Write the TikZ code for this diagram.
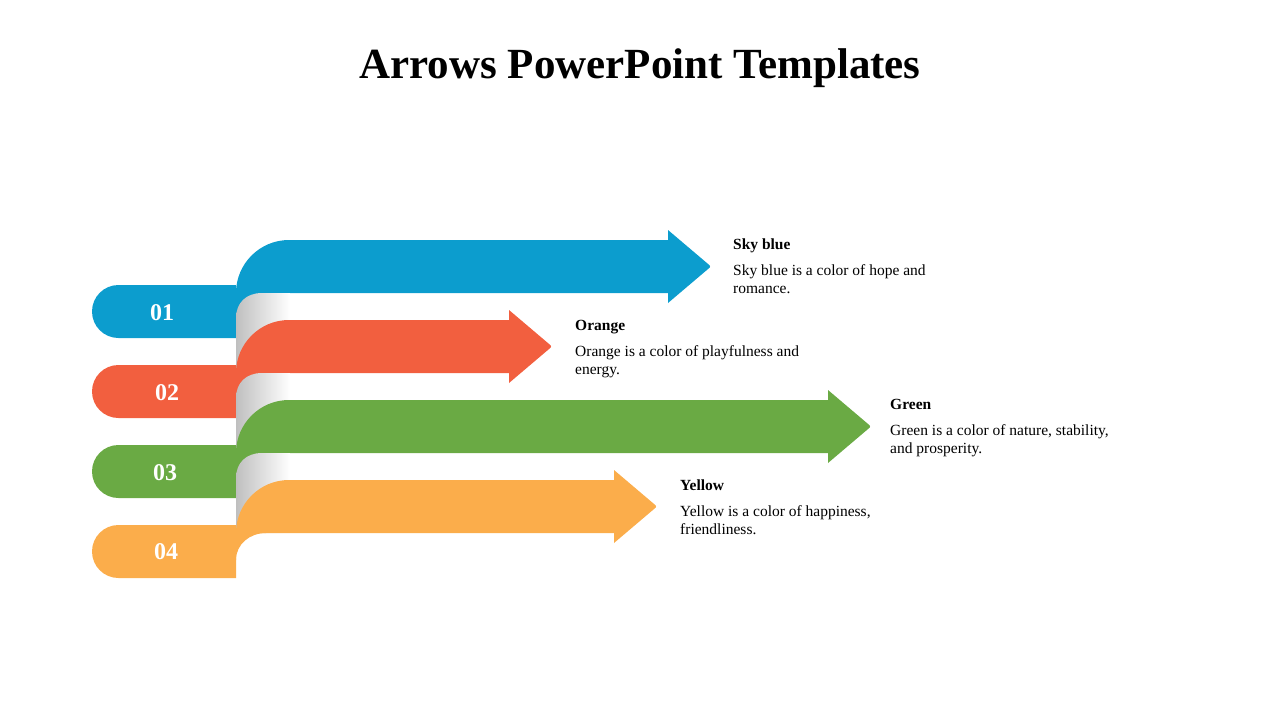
\documentclass[tikz,border=0pt]{standalone}
\usepackage{fontspec}
\setmainfont{Liberation Serif}
\definecolor{cblue}{HTML}{0C9DCE}
\definecolor{corange}{HTML}{F25F3F}
\definecolor{cgreen}{HTML}{6AAA44}
\definecolor{cyellow}{HTML}{FBAD4B}
\tikzset{
  num/.style={text=white,font=\fontsize{24}{28}\selectfont\bfseries,anchor=center},
  head/.style={font=\fontsize{15.5}{18}\selectfont\bfseries,anchor=base west,inner sep=0},
  desc/.style={font=\fontsize{15.5}{18}\selectfont,anchor=base west,inner sep=0},
}
\newcommand{\band}[4]{% #1 top y, #2 color, #3 head x, #4 gray?
  \fill[#2,rounded corners=26.5] (236,#1+45) -- (92,#1+45) -- (92,#1+98) -- (236,#1+98);
  \fill[#2] (236,#1+53) -- (266,#1+53) .. controls (250,#1+53) and (236,#1+64) .. (236,#1+80) -- cycle;
  \fill[#2] (236,#1+53) [rounded corners=53] -- (236,#1) [sharp corners] -- (#3,#1) -- (#3,#1-10) [rounded corners=2] -- (#3+43,#1+26.5) [sharp corners] -- (#3,#1+63) -- (#3,#1+53) -- cycle;
}
\newcommand{\fold}[1]{%
  \shade[left color=black!25,right color=white] (236,#1+133) -- (236,#1+78) .. controls (236,#1+63) and (246,#1+53) .. (262,#1+53) -- (290,#1+53) -- (290,#1+133) -- cycle;
}
\begin{document}
\begin{tikzpicture}[x=1pt,y=-1pt]
\useasboundingbox (0,0) rectangle (1280,720);
\node[font=\fontsize{43}{50}\selectfont\bfseries] (title) at (640,68) {Arrows PowerPoint Templates};
\band{240}{cblue}{668}{}
\fold{240}
\band{320}{corange}{509}{}
\fold{320}
\band{400}{cgreen}{828}{}
\fold{400}
\band{480}{cyellow}{614}{}
\node[num] (n1) at (162,313) {01};
\node[num] (n2) at (167,393) {02};
\node[num] (n3) at (165,473) {03};
\node[num] (n4) at (166,552) {04};
\node[head] (h1) at (733,249) {Sky blue};
\node[desc] (d1a) at (733,275) {Sky blue is a color of hope and};
\node[desc] (d1b) at (733,293) {romance.};
\node[head] (h2) at (575,330) {Orange};
\node[desc] (d2a) at (575,356) {Orange is a color of playfulness and};
\node[desc] (d2b) at (575,374) {energy.};
\node[head] (h3) at (890,409) {Green};
\node[desc] (d3a) at (890,435) {Green is a color of nature, stability,};
\node[desc] (d3b) at (890,453) {and prosperity.};
\node[head] (h4) at (680,490) {Yellow};
\node[desc] (d4a) at (680,516) {Yellow is a color of happiness,};
\node[desc] (d4b) at (680,534) {friendliness.};
\end{tikzpicture}
\end{document}
